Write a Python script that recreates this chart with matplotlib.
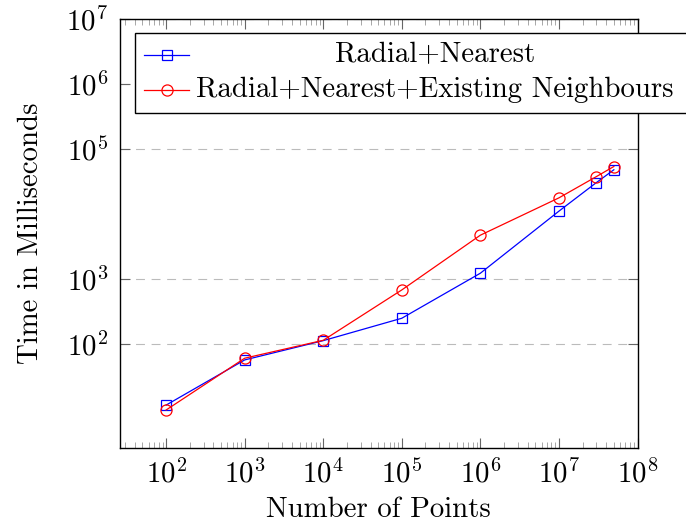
import matplotlib
matplotlib.use("Agg")
import matplotlib.pyplot as plt
import matplotlib.ticker as mticker
from matplotlib.lines import Line2D
from matplotlib.patches import Rectangle

plt.rcParams['font.family'] = 'serif'
plt.rcParams['font.serif'] = ['cmr10']
plt.rcParams['mathtext.fontset'] = 'cm'
plt.rcParams['axes.unicode_minus'] = False
plt.rcParams['axes.formatter.use_mathtext'] = True

# Data
num_points = [1e2, 1e3, 1e4, 1e5, 1e6, 1e7, 3e7, 5e7]
radial_nearest = [11.6, 57.4, 113.6, 251, 1236, 11120, 30600, 48100]
radial_nearest_existing = [9.75, 61, 115, 684, 4750, 17800, 37800, 54000]
series_labels = ["Radial+Nearest", "Radial+Nearest+Existing Neighbours"]
y_tick_values = [1e2, 1e3, 1e5, 1e6, 1e7]
x_tick_values = [1e2, 1e3, 1e4, 1e5, 1e6, 1e7, 1e8]
x_label = "Number of Points"
y_label = "Time in Milliseconds"

FS = 20.8
W, H = 686, 526
fig = plt.figure(figsize=(W / 100, H / 100), dpi=100)
ax = fig.add_axes([119.5 / W, 1 - 448 / H, (637.5 - 119.5) / W, (448 - 19) / H])

ax.set_xscale('log')
ax.set_yscale('log')
ax.set_xlim(25.5, 1e8)
ax.set_ylim(2.54, 1e7)

l1, = ax.plot(num_points, radial_nearest, color='blue', lw=0.9, marker='s',
              markersize=7.5, markerfacecolor='none', markeredgewidth=0.9)
l2, = ax.plot(num_points, radial_nearest_existing, color='red', lw=0.9, marker='o',
              markersize=8, markerfacecolor='none', markeredgewidth=0.9)

ax.set_xticks(x_tick_values)
ax.xaxis.set_minor_locator(mticker.LogLocator(base=10, subs=range(2, 10), numticks=100))
ax.xaxis.set_minor_formatter(mticker.NullFormatter())
ax.set_yticks(y_tick_values)
ax.yaxis.set_minor_locator(mticker.NullLocator())
ax.yaxis.set_major_formatter(mticker.LogFormatterSciNotation())

ax.tick_params(axis='both', which='major', direction='in', top=True, right=True,
               length=7, width=0.8, color='#666666', labelsize=FS, pad=8)
ax.tick_params(axis='x', which='minor', direction='in', top=True, bottom=True,
               length=4.2, width=0.6, color='#999999')

ax.grid(True, axis='y', which='major', linestyle=(0, (8, 6)), color='#bbbbbb', lw=0.8)
ax.grid(False, axis='x')
for s in ax.spines.values():
    s.set_linewidth(1.0)

ax.set_xlabel(x_label, fontsize=FS, labelpad=6)
ax.set_ylabel(y_label, fontsize=FS, labelpad=16)

# Manual legend (pgfplots-style, centered text, extending beyond axes)
lx0, ly0, lx1, ly1 = 135, 33, 700, 113
fig.patches.append(Rectangle((lx0 / W, 1 - ly1 / H), (lx1 - lx0) / W, (ly1 - ly0) / H,
                             transform=fig.transFigure, facecolor='white',
                             edgecolor='black', lw=1.0, zorder=5, clip_on=False))
rows = [54.7, 90]
for (line, lab, ry) in zip([l1, l2], series_labels, rows):
    fig.add_artist(Line2D([144 / W, 189 / W], [1 - ry / H, 1 - ry / H], transform=fig.transFigure,
                          color=line.get_color(), lw=0.9, zorder=6))
    fig.add_artist(Line2D([166.7 / W], [1 - ry / H], transform=fig.transFigure,
                          color=line.get_color(), marker=line.get_marker(),
                          markersize=line.get_markersize() * 1.0,
                          markerfacecolor='none', markeredgewidth=0.9, lw=0, zorder=6))
    fig.text(435 / W, 1 - ry / H, lab, ha='center', va='center', fontsize=FS, zorder=7)

fig.savefig("out.png", dpi=100)
